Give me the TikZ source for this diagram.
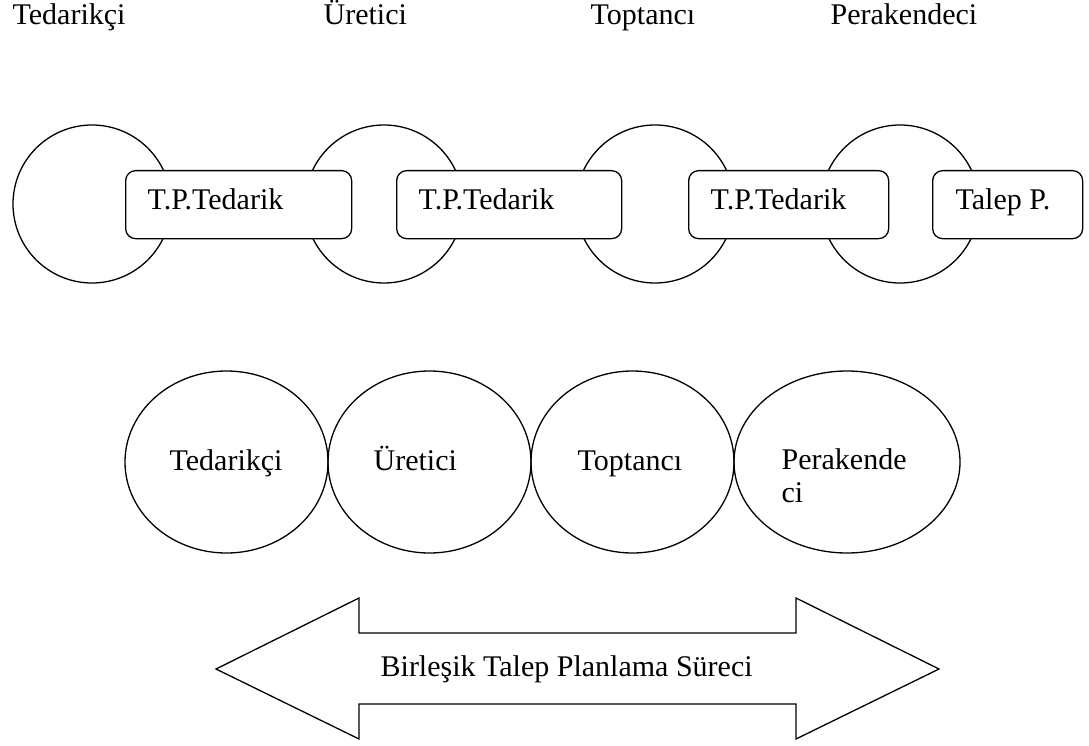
\documentclass[tikz,border=0pt]{standalone}
\usepackage{fontspec}
\setmainfont{Liberation Serif}
\usetikzlibrary{shapes.geometric}
\begin{document}
\begin{tikzpicture}[x=1pt,y=-1pt,
  line width=1.3pt,
  lbl/.style={anchor=base west,inner sep=0pt,font=\fontsize{30}{34}\selectfont},
  link/.style={draw,circle,minimum size=158pt,inner sep=0pt},
  tpbox/.style={draw,fill=white,rounded corners=10pt,minimum height=68pt,inner sep=0pt,anchor=north west},
  actor/.style={draw,ellipse,minimum width=203pt,minimum height=182pt,inner sep=0pt}]
\useasboundingbox (0,0) rectangle (1089,746);

% column headings
\node[lbl] (h1) at (12,25) {Tedarikçi};
\node[lbl] (h2) at (323,25) {Üretici};
\node[lbl] (h3) at (590,25) {Toptancı};
\node[lbl] (h4) at (830,25) {Perakendeci};

% chain links
\node[link] (c1) at (92,204) {};
\node[link] (c2) at (384,204) {};
\node[link] (c3) at (655,204) {};
\node[link] (c4) at (900,204) {};

% planning boxes across the links
\node[tpbox,minimum width=226pt] (b1) at (125,170) {};
\node[tpbox,minimum width=225pt] (b2) at (396,170) {};
\node[tpbox,minimum width=200pt] (b3) at (688,170) {};
\node[tpbox,minimum width=150pt] (b4) at (932,170) {};
\node[lbl] (t1) at (147,210) {T.P.Tedarik};
\node[lbl] (t2) at (418,210) {T.P.Tedarik};
\node[lbl] (t3) at (710,210) {T.P.Tedarik};
\node[lbl] (t4) at (955,210) {Talep P.};

% integrated partners
\node[actor] (e1) at (226.5,462) {};
\node[actor] (e2) at (429.5,462) {};
\node[actor] (e3) at (632.5,462) {};
\node[actor,minimum width=226pt] (e4) at (847,462) {};
\node[lbl] (p1) at (169,470) {Tedarikçi};
\node[lbl] (p2) at (373,470) {Üretici};
\node[lbl] (p3) at (577,470) {Toptancı};
\node[lbl] (p4a) at (781,469) {Perakende};
\node[lbl] (p4b) at (781,502) {ci};

% two-headed process arrow
\draw (216,669) -- (359,598) -- (359,633) -- (796,633) -- (796,598)
  -- (939,669) -- (796,739) -- (796,704) -- (359,704) -- (359,739) -- cycle;
\node[lbl] (proc) at (380,676) {Birleşik Talep Planlama Süreci};
\end{tikzpicture}
\end{document}
